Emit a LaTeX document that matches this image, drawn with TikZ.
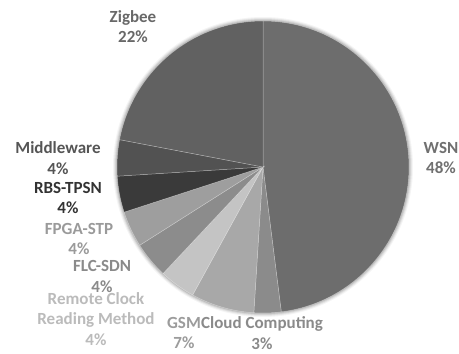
\documentclass[tikz,border=0pt]{standalone}
\usepackage{fontspec}
\setmainfont{Carlito}
\definecolor{cWSN}{HTML}{6D6D6D}
\definecolor{cZig}{HTML}{616161}
\definecolor{cMid}{HTML}{525252}
\definecolor{cRBS}{HTML}{3A3A3A}
\definecolor{cFPGA}{HTML}{9E9E9E}
\definecolor{cFLC}{HTML}{8C8C8C}
\definecolor{cRem}{HTML}{C4C4C4}
\definecolor{cGSM}{HTML}{A8A8A8}
\definecolor{cCloud}{HTML}{8B8B8B}
\definecolor{tWSN}{HTML}{707070}
\definecolor{tZig}{HTML}{686868}
\definecolor{tMid}{HTML}{555555}
\definecolor{tRBS}{HTML}{333333}
\definecolor{tFPGA}{HTML}{9A9A9A}
\definecolor{tFLC}{HTML}{8A8A8A}
\definecolor{tRem}{HTML}{BBBBBB}
\definecolor{tGSM}{HTML}{9C9C9C}
\definecolor{tCloud}{HTML}{8A8A8A}
\tikzset{
  lbl/.style={font=\fontsize{17}{20.5}\selectfont\bfseries, align=center, inner sep=0pt},
  slice/.style={draw=white, draw opacity=0.35, line width=0.5pt}
}
\begin{document}
\begin{tikzpicture}[x=1pt,y=1pt]
\useasboundingbox (0,0) rectangle (459,354);
\fill[white] (0,0) rectangle (459,354);
\coordinate (c) at (263,187);
% soft shadow
\foreach \r/\o in {150/0.04,149/0.06,148/0.08,147/0.10}{
  \fill[black, opacity=\o] (c) circle (\r);
}
\def\R{146}
\newcommand{\pieslice}[3]{%
  \filldraw[slice, fill=#3] (c) -- ++(#1:\R) arc[start angle=#1, end angle=#2, radius=\R] -- cycle;}
\pieslice{90}{-82.8}{cWSN}
\pieslice{-82.8}{-93.6}{cCloud}
\pieslice{-93.6}{-118.8}{cGSM}
\pieslice{-118.8}{-133.2}{cRem}
\pieslice{-133.2}{-147.6}{cFLC}
\pieslice{-147.6}{-162}{cFPGA}
\pieslice{-162}{-176.4}{cRBS}
\pieslice{-176.4}{-190.8}{cMid}
\pieslice{-190.8}{-270}{cZig}
% labels
\node[lbl, text=tZig]   (lZig)   at (133,327.5) {Zigbee\\22\%};
\node[lbl, text=tWSN]   (lWSN)   at (441,196)   {WSN\\48\%};
\node[lbl, text=tMid]   (lMid)   at (58,196)    {Middleware\\4\%};
\node[lbl, text=tRBS]   (lRBS)   at (68,156)    {RBS-TPSN\\4\%};
\node[lbl, text=tFPGA]  (lFPGA)  at (79,115)    {FPGA-STP\\4\%};
\node[lbl, text=tFLC]   (lFLC)   at (102,77.5)  {FLC-SDN\\4\%};
\node[lbl, text=tRem]   (lRem)   at (96,35)     {Remote Clock\\Reading Method\\4\%};
\node[lbl, text=tGSM]   (lGSM)   at (184,21)    {GSM\\7\%};
\node[lbl, text=tCloud] (lCloud) at (262,21)    {Cloud Computing\\3\%};
\end{tikzpicture}
\end{document}
